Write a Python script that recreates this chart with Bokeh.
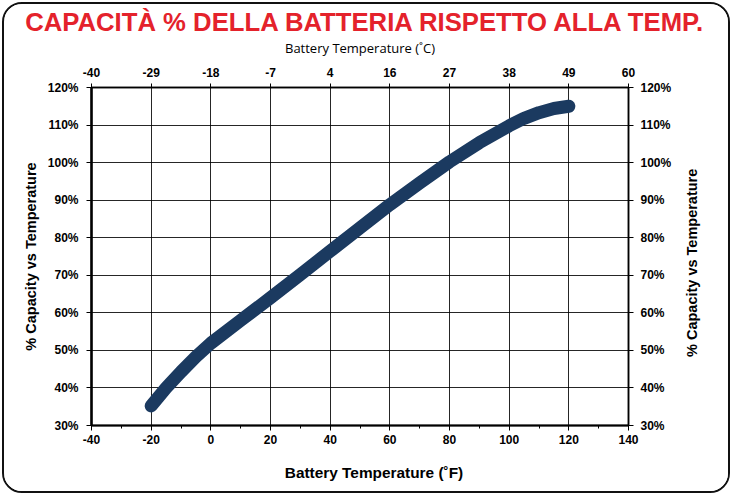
import math
from bokeh.plotting import figure
from bokeh.layouts import row, column
from bokeh.models import LinearAxis, FixedTicker, Range1d, Grid
from bokeh.core.properties import value
from bokeh.embed import file_html
from bokeh.resources import INLINE

# ---- data ----
temps_f = [-20, -15, -10, -5, 0, 10, 20, 30, 40, 50, 60, 70, 80, 90, 100, 105, 110, 115, 120]
capacity = [35.2, 40.0, 44.3, 48.3, 51.9, 58.0, 64.0, 70.2, 76.4, 82.6, 88.8, 94.6, 100.2,
            105.3, 109.8, 111.8, 113.3, 114.4, 115.0]
f_ticks = [-40, -20, 0, 20, 40, 60, 80, 100, 120, 140]
f_minor = [-30, -10, 10, 30, 50, 70, 90, 110, 130]
c_labels = ["-40", "-29", "-18", "-7", "4", "16", "27", "38", "49", "60"]
pct_ticks = [30, 40, 50, 60, 70, 80, 90, 100, 110, 120]
pct_labels = ["30%", "40%", "50%", "60%", "70%", "80%", "90%", "100%", "110%", "120%"]
title_text = "CAPACITÀ % DELLA BATTERIA RISPETTO ALLA TEMP."
y_title = "% Capacity vs Temperature"
x_title_f = "Battery Temperature (˚F)"
x_title_c = "Battery Temperature (˚C)"

FONT = "Liberation Sans"
TOTAL_W = 724
TH, BH = 31, 30          # title strip / bottom-label strip heights
W, H = 670, 426          # main figure
SW = TOTAL_W - W         # side strip holding the right-hand title
ML, MR, MT, MB = 87, 46, 52, 36

def strip(width, height):
    f = figure(width=width, height=height, x_range=Range1d(0, width), y_range=Range1d(0, height),
               x_axis_type=None, y_axis_type=None, output_backend="svg",
               toolbar_location=None, min_border_left=0, min_border_right=0,
               min_border_top=0, min_border_bottom=0)
    f.outline_line_color = None
    f.background_fill_color = "white"
    f.border_fill_color = "white"
    return f

# ---- title strip ----
t = strip(TOTAL_W, TH)
t.text(x=[TOTAL_W / 2 - 0.5], y=[TH - 17.0], text=[title_text], text_align="center",
       text_baseline="middle", text_font=value(FONT), text_font_style="bold",
       text_font_size="25.7px", text_color="#e4222b")

# ---- main chart ----
p = figure(width=W, height=H, x_range=Range1d(f_ticks[0], f_ticks[-1]),
           y_range=Range1d(pct_ticks[0], pct_ticks[-1]),
           x_axis_type=None, y_axis_type=None,
           output_backend="svg", toolbar_location=None,
           min_border_left=ML, min_border_right=MR, min_border_top=MT, min_border_bottom=MB)
p.background_fill_color = "white"
p.border_fill_color = "white"
p.outline_line_color = "black"
p.outline_line_width = 1.5

def style_axis(ax, size="12px"):
    ax.major_label_text_font = FONT
    ax.major_label_text_font_style = "bold"
    ax.major_label_text_font_size = size
    ax.major_label_text_color = "black"
    ax.axis_line_color = "black"
    ax.major_tick_line_color = "black"
    ax.minor_tick_line_color = "black"
    ax.axis_label_text_font = FONT
    ax.axis_label_text_color = "black"

fmap = {t_: str(t_) for t_ in f_ticks}
bottom = LinearAxis(ticker=FixedTicker(ticks=f_ticks, minor_ticks=f_minor),
                    major_label_overrides=fmap)
style_axis(bottom)
bottom.axis_line_width = 2
bottom.major_tick_out = 5
bottom.major_tick_in = 0
bottom.minor_tick_out = 3
bottom.minor_tick_in = 0
bottom.major_label_standoff = 4
p.add_layout(bottom, "below")

top = LinearAxis(ticker=FixedTicker(ticks=f_ticks, minor_ticks=[]),
                 axis_label=x_title_c,
                 major_label_overrides={f: c for f, c in zip(f_ticks, c_labels)})
style_axis(top)
top.axis_line_width = 1.5
top.major_tick_out = 4
top.major_tick_in = 0
top.minor_tick_out = 0
top.minor_tick_in = 0
top.major_label_standoff = 7
top.axis_label_text_font = "Open Sans"
top.axis_label_text_font_size = "13px"
top.axis_label_text_font_style = "normal"
top.axis_label_standoff = 8
p.add_layout(top, "above")

pmap = {t_: l for t_, l in zip(pct_ticks, pct_labels)}
left = LinearAxis(ticker=FixedTicker(ticks=pct_ticks, minor_ticks=[]),
                  axis_label=y_title, major_label_overrides=pmap)
style_axis(left)
left.axis_line_width = 2.5
left.major_tick_out = 5
left.major_tick_in = 0
left.minor_tick_out = 0
left.minor_tick_in = 0
left.major_label_standoff = 8
left.axis_label_text_font_size = "14.5px"
left.axis_label_text_font_style = "bold"
left.axis_label_standoff = 6
p.add_layout(left, "left")

right = LinearAxis(ticker=FixedTicker(ticks=pct_ticks, minor_ticks=[]),
                   major_label_overrides=pmap)
style_axis(right)
right.axis_line_width = 1.5
right.major_tick_out = 5
right.major_tick_in = 0
right.minor_tick_out = 0
right.minor_tick_in = 0
right.major_label_standoff = 7
right.major_label_orientation = "horizontal"
p.add_layout(right, "right")

p.add_layout(Grid(dimension=0, ticker=FixedTicker(ticks=f_ticks, minor_ticks=[]),
                  grid_line_color="black", grid_line_width=1, grid_line_alpha=0.85))
p.add_layout(Grid(dimension=1, ticker=FixedTicker(ticks=pct_ticks, minor_ticks=[]),
                  grid_line_color="black", grid_line_width=1, grid_line_alpha=0.85))

p.line(temps_f, capacity, line_width=13, line_color="#1b3a60",
       line_cap="round", line_join="round")

# ---- side strip: right-hand title reading bottom-to-top ----
s = strip(SW, H)
frame_mid_from_top = MT + (H - MT - MB) / 2
s.text(x=[17.2], y=[H - frame_mid_from_top], text=[y_title], angle=math.pi / 2,
       text_align="center", text_baseline="middle", text_font=value(FONT),
       text_font_style="bold", text_font_size="14.5px", text_color="black")

# ---- bottom strip: °F axis title ----
b = strip(TOTAL_W, BH)
b.text(x=[369.5], y=[BH - 10.5], text=[x_title_f], text_align="center",
       text_baseline="middle", text_font=value(FONT), text_font_style="bold",
       text_font_size="15.4px", text_color="black")

layout = column(t, row(p, s, spacing=0), b, spacing=0,
                styles={"border": "2.5px solid #111", "border-radius": "20px",
                        "overflow": "hidden", "margin": "2px"})

open("out.html", "w").write(file_html(layout, INLINE))
